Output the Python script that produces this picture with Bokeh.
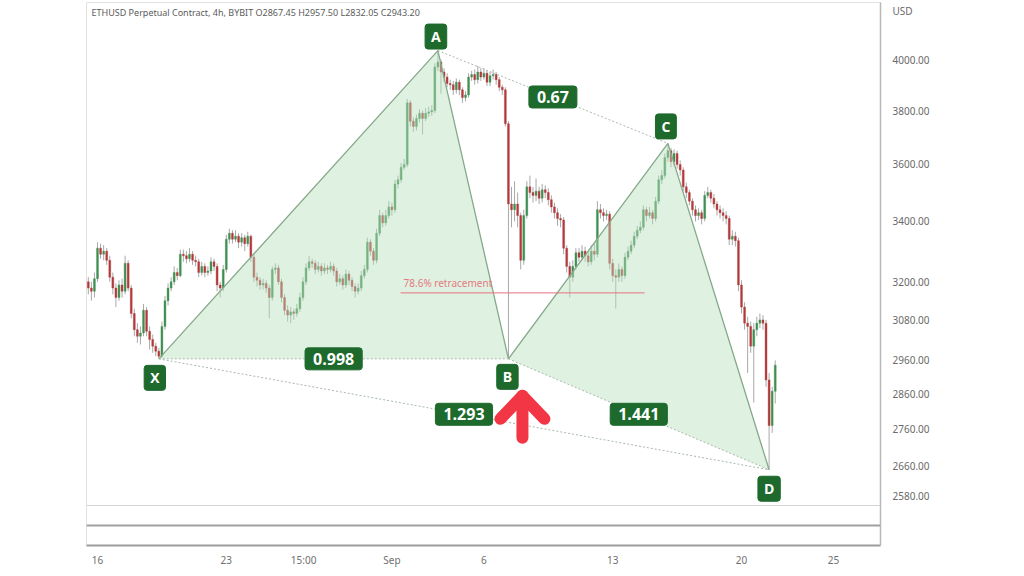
import math
from bokeh.plotting import figure
from bokeh.models import Range1d, FixedTicker, PrintfTickFormatter, Label, Span, ColumnDataSource
from bokeh.embed import file_html
from bokeh.resources import INLINE

# ---------------- data ----------------
title_text = "ETHUSD Perpetual Contract, 4h, BYBIT  O2867.45  H2957.50  L2832.05  C2943.20"

bar_start_day = 15.5          # Aug 15 12:00, in "days of August" (Sep 1 = 32)
bar_step_day = 1.0 / 6.0      # 4h bars
first_open = 3200.0

closes = [
    3180,
    3170, 3210, 3310, 3290, 3300, 3270, 3215, 3180, 3150, 3190,
    3170, 3260, 3180, 3100, 3050, 3030, 3040, 3110, 3045, 3020,
    3000, 2985, 2970, 3060, 3140, 3180, 3200, 3230, 3220, 3290,
    3285, 3275, 3290, 3270, 3265, 3230, 3250, 3230, 3235, 3265,
    3250, 3190, 3180, 3240, 3340, 3360, 3340, 3350, 3330, 3345,
    3325, 3350, 3280, 3215, 3205, 3190, 3195, 3180, 3150, 3240,
    3245, 3200, 3150, 3110, 3095, 3105, 3100, 3115, 3150, 3200,
    3245, 3265, 3260, 3240, 3250, 3235, 3245, 3240, 3250, 3235,
    3200, 3210, 3190, 3225, 3205, 3185, 3170, 3180, 3220, 3240,
    3330, 3300, 3270, 3360, 3420, 3395, 3420, 3450, 3440, 3530,
    3545, 3590, 3600, 3830, 3760, 3740, 3770, 3790, 3770, 3790,
    3795, 3800, 3970, 3990, 3950, 3930, 3905, 3900, 3880, 3910,
    3880, 3850, 3860, 3930, 3940, 3920, 3950, 3930, 3945, 3910,
    3935, 3940, 3920, 3890, 3880, 3750, 3460, 3440, 3460, 3420,
    3270, 3420, 3520, 3500, 3490, 3505, 3480, 3510, 3500, 3475,
    3450, 3430, 3410, 3405, 3310, 3250, 3215, 3250, 3295, 3280,
    3300, 3285, 3265, 3300, 3290, 3440, 3430, 3420, 3425, 3260,
    3220, 3215, 3240, 3220, 3280, 3300, 3320, 3350, 3370, 3380,
    3440, 3420, 3430, 3410, 3470, 3545, 3560, 3625, 3650, 3610,
    3640, 3600, 3580, 3520, 3500, 3470, 3440, 3420, 3430, 3410,
    3490, 3500, 3480, 3460, 3440, 3430, 3420, 3410, 3340, 3350,
    3335, 3190, 3120, 3070, 3060, 3000, 3050, 3070, 3080, 3070,
    2900, 2770, 2867.45, 2943.20,
]

highs = [
    3215, 3200, 3230, 3330, 3325, 3320, 3310, 3285, 3230, 3195,
    3205, 3210, 3285, 3270, 3190, 3115, 3070, 3060, 3130, 3120,
    3060, 3035, 3010, 2995, 3075, 3155, 3195, 3215, 3250, 3245,
    3305, 3305, 3300, 3310, 3300, 3285, 3275, 3265, 3260, 3250,
    3280, 3275, 3260, 3200, 3255, 3355, 3375, 3370, 3370, 3360,
    3360, 3355, 3365, 3355, 3290, 3230, 3215, 3210, 3205, 3190,
    3250, 3260, 3255, 3210, 3160, 3125, 3120, 3115, 3130, 3165,
    3215, 3260, 3285, 3275, 3270, 3265, 3260, 3260, 3255, 3265,
    3260, 3245, 3225, 3220, 3240, 3235, 3215, 3195, 3195, 3235,
    3255, 3345, 3340, 3310, 3375, 3440, 3430, 3440, 3470, 3465,
    3545, 3560, 3605, 3620, 3845, 3840, 3775, 3785, 3805, 3800,
    3810, 3815, 3820, 3985, 4036, 4000, 3965, 3945, 3920, 3915,
    3925, 3920, 3890, 3875, 3945, 3955, 3960, 3975, 3965, 3965,
    3955, 3950, 3960, 3950, 3930, 3900, 3890, 3760, 3520, 3540,
    3500, 3430, 3440, 3540, 3560, 3520, 3550, 3520, 3530, 3525,
    3515, 3490, 3465, 3445, 3425, 3415, 3320, 3265, 3270, 3310,
    3310, 3320, 3315, 3300, 3320, 3330, 3470, 3460, 3445, 3440,
    3435, 3275, 3240, 3260, 3250, 3295, 3315, 3335, 3365, 3385,
    3400, 3455, 3450, 3450, 3440, 3485, 3560, 3580, 3640, 3677,
    3660, 3655, 3650, 3615, 3590, 3535, 3510, 3480, 3455, 3445,
    3440, 3505, 3520, 3510, 3495, 3470, 3455, 3445, 3435, 3420,
    3370, 3365, 3345, 3205, 3135, 3090, 3075, 3070, 3090, 3100,
    3095, 3080, 2920, 2880, 2957.50,
]

lows = [
    3160, 3140, 3150, 3200, 3275, 3270, 3255, 3200, 3160, 3120,
    3140, 3150, 3160, 3170, 3085, 3030, 3010, 3005, 3030, 3030,
    2990, 2980, 2970, 2962, 2965, 3050, 3125, 3170, 3190, 3205,
    3215, 3265, 3260, 3265, 3255, 3250, 3215, 3220, 3215, 3220,
    3225, 3235, 3170, 3150, 3170, 3230, 3325, 3325, 3330, 3310,
    3315, 3300, 3315, 3265, 3200, 3185, 3175, 3175, 3165, 3085,
    3140, 3225, 3190, 3135, 3095, 3075, 3070, 3080, 3090, 3105,
    3140, 3190, 3235, 3245, 3225, 3230, 3220, 3225, 3225, 3230,
    3220, 3185, 3190, 3175, 3180, 3190, 3170, 3150, 3160, 3170,
    3210, 3230, 3285, 3255, 3260, 3350, 3380, 3385, 3410, 3420,
    3430, 3515, 3535, 3580, 3590, 3740, 3720, 3725, 3755, 3710,
    3760, 3775, 3780, 3790, 3955, 3865, 3910, 3890, 3880, 3860,
    3865, 3860, 3830, 3835, 3850, 3915, 3900, 3905, 3915, 3920,
    3895, 3895, 3920, 3900, 3875, 3860, 3740, 2962, 3380, 3400,
    3380, 3240, 3255, 3410, 3480, 3465, 3470, 3460, 3465, 3480,
    3455, 3430, 3410, 3385, 3380, 3290, 3230, 3150, 3200, 3240,
    3265, 3270, 3265, 3250, 3255, 3270, 3280, 3410, 3400, 3405,
    3240, 3200, 3115, 3200, 3200, 3210, 3270, 3290, 3310, 3340,
    3360, 3370, 3400, 3410, 3390, 3400, 3460, 3530, 3550, 3610,
    3590, 3595, 3585, 3560, 3505, 3480, 3455, 3420, 3400, 3405,
    3390, 3400, 3480, 3465, 3445, 3420, 3410, 3400, 3390, 3320,
    3320, 3315, 3170, 3100, 3050, 2920, 2980, 2835, 3030, 3055,
    3050, 2880, 2650, 2750, 2832.05,
]

price_ticks = [2580, 2660, 2760, 2860, 2960, 3080, 3200, 3400, 3600, 3800, 4000, 4200]
price_badge = "USD"           # currency badge that covers the top price label
date_ticks = [16, 23, 27.2, 32, 37, 44, 51, 56]
date_labels = ["16", "23", "15:00", "Sep", "6", "13", "20", "25"]

pattern_names = ["X", "A", "B", "C", "D"]
pattern_bars = [23, 114, 137, 189, 222]
pattern_side = ["low", "high", "low", "high", "low"]
ratio_labels = ["0.998", "0.67", "1.293", "1.441"]
ratio_pairs = [("X", "B"), ("A", "C"), ("X", "D"), ("B", "D")]
retracement_level = 0.786
retracement_text = "78.6% retracement"
retracement_days = (32.47, 45.73)

# ---------------- layout ----------------
W, H = 1000, 572
B_LEFT, B_RIGHT, B_TOP, B_BOTTOM = 86, 120, 2, 27
FRAME_W = W - B_LEFT - B_RIGHT
FRAME_H = H - B_TOP - B_BOTTOM
X0, X1 = 15.402, 58.554
Y0, Y1 = 2456.0, 4235.5
day_per_px = (X1 - X0) / FRAME_W
ln_per_px = math.log(Y1 / Y0) / FRAME_H


def px_offset(day, price, dx, dy_down):
    return day + dx * day_per_px, price * math.exp(-dy_down * ln_per_px)


def price_at_px(py):
    return Y1 * math.exp(-py * ln_per_px)


p = figure(width=W, height=H, title=None,
           x_range=Range1d(X0, X1), y_range=Range1d(Y0, Y1),
           y_axis_type="log", y_axis_location="right",
           output_backend="svg", toolbar_location=None,
           min_border_left=B_LEFT, min_border_right=B_RIGHT,
           min_border_top=B_TOP, min_border_bottom=B_BOTTOM)
p.grid.grid_line_color = None
p.outline_line_color = "#e2e2e2"
p.background_fill_color = "white"
p.border_fill_color = "white"

AXIS_FONT = "Noto Sans"
ya = p.yaxis[0]
ya.ticker = FixedTicker(ticks=price_ticks)
ya.formatter = PrintfTickFormatter(format="%.2f")
ya.major_label_overrides = {price_ticks[-1]: price_badge}
ya.major_tick_line_color = None
ya.minor_tick_line_color = None
ya.major_tick_out = 0
ya.major_label_standoff = 12
ya.axis_line_color = "#b8b8b8"
ya.axis_line_width = 1.5
ya.major_label_text_font = AXIS_FONT
ya.major_label_text_font_size = "10px"
ya.major_label_text_color = "#6a6a6a"

xa = p.xaxis[0]
xa.ticker = FixedTicker(ticks=date_ticks)
xa.major_label_overrides = dict(zip(date_ticks, date_labels))
xa.major_tick_line_color = None
xa.minor_tick_line_color = None
xa.major_tick_out = 0
xa.major_label_standoff = 7
xa.axis_line_color = "#9c9c9c"
xa.axis_line_width = 1.8
xa.major_label_text_font = AXIS_FONT
xa.major_label_text_font_size = "10px"
xa.major_label_text_color = "#6f6f6f"

# pane separators below the price pane
p.add_layout(Span(location=price_at_px(FRAME_H - 40), dimension="width",
                  line_color="#d4d4d4", line_width=1))
p.add_layout(Span(location=price_at_px(FRAME_H - 20), dimension="width",
                  line_color="#a0a0a0", line_width=1.8))

# ---------------- candles ----------------
n = len(closes)
opens = [first_open] + closes[:-1]
xs = [bar_start_day + i * bar_step_day for i in range(n)]
GREEN, RED = "#3f8f52", "#b3393b"
src = ColumnDataSource(dict(
    x=xs, o=opens, c=closes, h=highs, l=lows,
    top=[max(o, c) for o, c in zip(opens, closes)],
    bot=[min(o, c) for o, c in zip(opens, closes)],
    color=[GREEN if c >= o else RED for o, c in zip(opens, closes)],
))
p.segment(x0="x", y0="h", x1="x", y1="l", source=src, line_color="#a8a8a8", line_width=1)
p.vbar(x="x", width=bar_step_day * 0.62, top="top", bottom="bot", source=src,
       fill_color="color", line_color="color", line_width=0.4)

# ---------------- harmonic pattern ----------------
pts = {}
for name, bi, side in zip(pattern_names, pattern_bars, pattern_side):
    pts[name] = (xs[bi], lows[bi] if side == "low" else highs[bi])

X, A, Bp, C, D = (pts[k] for k in pattern_names)
p.patches(xs=[[X[0], A[0], Bp[0]], [Bp[0], C[0], D[0]]],
          ys=[[X[1], A[1], Bp[1]], [Bp[1], C[1], D[1]]],
          fill_color="#b9dfbd", fill_alpha=0.45, line_color=None)
p.line([pts[k][0] for k in pattern_names], [pts[k][1] for k in pattern_names],
       line_color="#85a98a", line_width=1.3)
for a, b in ratio_pairs:
    p.line([pts[a][0], pts[b][0]], [pts[a][1], pts[b][1]],
           line_color="#a9b9aa", line_width=1, line_dash="2 2")

# 78.6% retracement of XA (log chart)
retr_price = math.exp(math.log(A[1]) - retracement_level * (math.log(A[1]) - math.log(X[1])))
p.line(list(retracement_days), [retr_price, retr_price], line_color="#e8707f", line_width=1)
p.add_layout(Label(x=retracement_days[0], y=retr_price, x_offset=3, y_offset=3,
                   text=retracement_text, text_font=AXIS_FONT, text_font_size="10px",
                   text_color="#e57a82", text_align="left", text_baseline="bottom"))

# red arrow under B
arrow_color = "#f23645"
tip = px_offset(Bp[0], Bp[1], 14, 37)
arm_l = px_offset(Bp[0], Bp[1], -8, 60)
arm_r = px_offset(Bp[0], Bp[1], 36, 60)
base = px_offset(Bp[0], Bp[1], 14, 79)
p.multi_line(xs=[[arm_l[0], tip[0], arm_r[0]], [tip[0], base[0]]],
             ys=[[arm_l[1], tip[1], arm_r[1]], [tip[1], base[1]]],
             line_color=arrow_color, line_width=12, line_cap="round", line_join="round")

BADGE = "#1e6a2d"
letter_offsets = {"X": (-4, -19), "A": (-2, 14), "B": (-1, -18), "C": (-2, 17), "D": (0, -19)}
for name in pattern_names:
    dx, dy = letter_offsets[name]
    p.add_layout(Label(x=pts[name][0], y=pts[name][1], x_offset=dx, y_offset=dy, text=name,
                       text_font="Open Sans", text_font_size="14px", text_font_style="bold",
                       text_color="white", text_align="center", text_baseline="middle",
                       background_fill_color=BADGE, border_line_color=BADGE,
                       border_radius=3, padding=(6, 3)))

for lab, (a, b) in zip(ratio_labels, ratio_pairs):
    mx = (pts[a][0] + pts[b][0]) / 2
    my = math.sqrt(pts[a][1] * pts[b][1])
    p.add_layout(Label(x=mx, y=my, text=lab,
                       text_font="Open Sans", text_font_size="16px", text_font_style="bold",
                       text_color="white", text_align="center", text_baseline="middle",
                       background_fill_color=BADGE, border_line_color=BADGE,
                       border_radius=3, padding=(8, 5)))

# header text
p.add_layout(Label(x=X0, y=price_at_px(10), x_offset=5, text=title_text,
                   text_font=AXIS_FONT, text_font_size="9px", text_color="#5c5c5c",
                   text_align="left", text_baseline="middle"))

open("out.html", "w").write(file_html(p, INLINE))
